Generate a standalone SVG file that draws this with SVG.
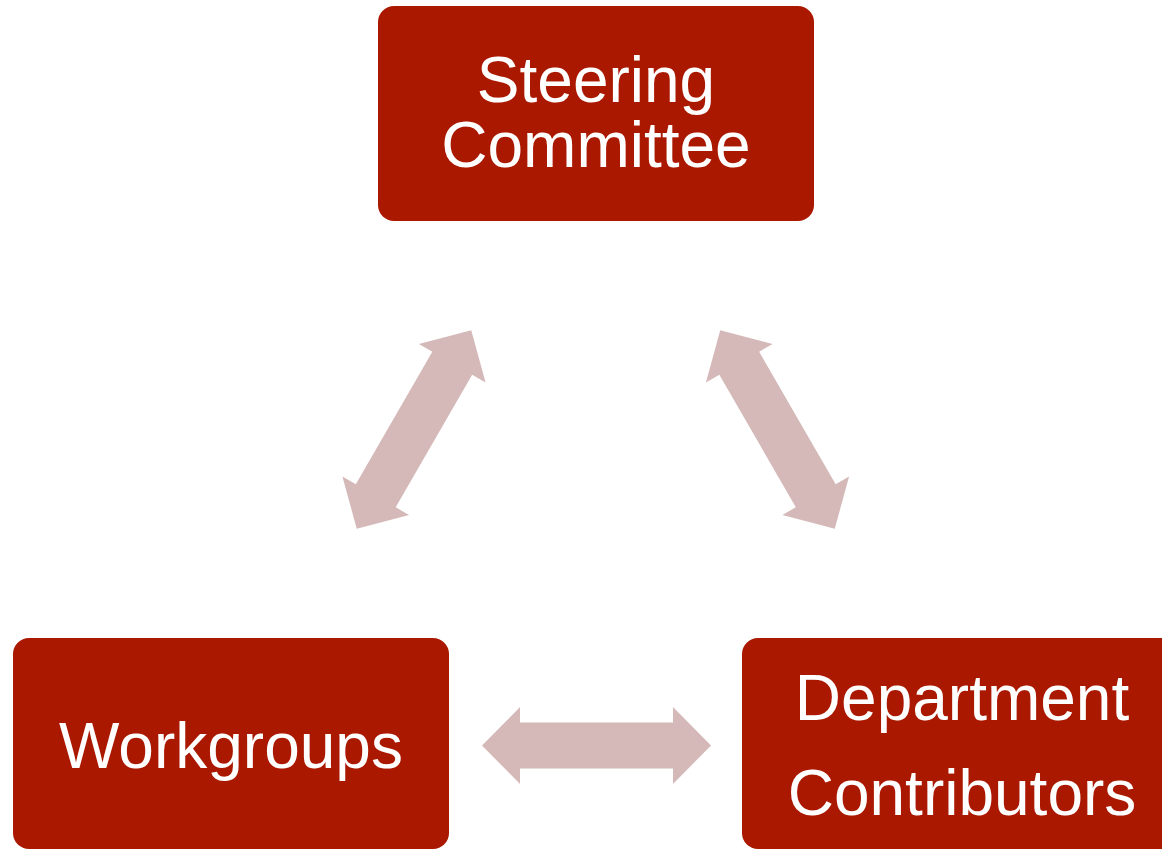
<svg xmlns="http://www.w3.org/2000/svg" width="1162" height="850" viewBox="0 0 1162 850">
<style>
.box{fill:#AA1800;}
.lbl{fill:#FFFFFF;font-family:"Liberation Sans",Arial,sans-serif;font-size:64px;text-anchor:middle;}
.arr{fill:#D5B8B8;}
</style>
<defs>
<polygon id="dbl" points="-114.5,0 -76.5,-38.5 -76.5,-23 76.5,-23 76.5,-38.5 114.5,0 76.5,38.5 76.5,23 -76.5,23 -76.5,38.5"/>
</defs>
<rect width="1162" height="850" fill="#FFFFFF"/>
<g id="connectors">
<use href="#dbl" class="arr" transform="translate(414,429.5) rotate(-60)"/>
<use href="#dbl" class="arr" transform="translate(777.5,429.5) rotate(60)"/>
<use href="#dbl" class="arr" transform="translate(596.5,745.5)"/>
</g>
<g id="steering">
<rect class="box" x="378" y="6" width="436" height="215" rx="16"/>
<text class="lbl" x="596" y="102">Steering</text>
<text class="lbl" x="596" y="167">Committee</text>
</g>
<g id="workgroups">
<rect class="box" x="13" y="638" width="436" height="211" rx="16"/>
<text class="lbl" x="231" y="768">Workgroups</text>
</g>
<g id="department">
<rect class="box" x="742" y="638" width="436" height="211" rx="16"/>
<text class="lbl" x="962" y="720">Department</text>
<text class="lbl" x="962" y="815">Contributors</text>
</g>
</svg>
